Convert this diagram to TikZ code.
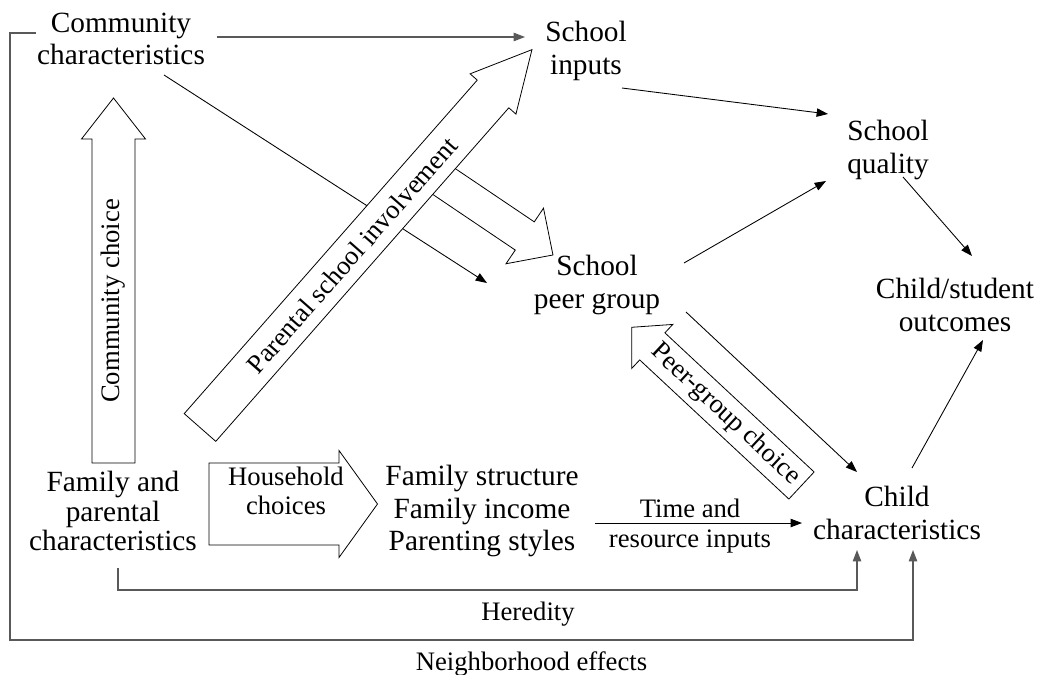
\documentclass[tikz,border=0pt]{standalone}
\usepackage{fontspec}
\setmainfont{Liberation Serif}
\usetikzlibrary{arrows.meta}
\tikzset{
  main/.style={font=\fontsize{22}{24.5}\selectfont, align=center, inner sep=0pt},
  fam/.style={font=\fontsize{22}{22.3}\selectfont, align=center, inner sep=0pt},
  lab/.style={font=\fontsize{20}{22}\selectfont, align=center, inner sep=0pt},
  arr/.style={-{Triangle[length=8.5pt,width=6.3pt]}, line width=0.65pt},
  garr/.style={arr, draw=black!65, line width=0.9pt},
  blk/.style={draw=black, fill=white, line width=0.6pt, line join=miter},
  pics/barrow/.style args={#1/#2/#3/#4}{code={
    \draw[blk] (0,-#2/2) -- (#1-#4,-#2/2) -- (#1-#4,-#3/2) -- (#1,0)
      -- (#1-#4,#3/2) -- (#1-#4,#2/2) -- (0,#2/2) -- cycle;
  }},
}
\begin{document}
\begin{tikzpicture}[x=0.75pt,y=-0.75pt]
\fill[white] (0,0) rectangle (1040,675);
\useasboundingbox (0,0) rectangle (1040,675);

% text nodes
\node[main] (comm) at (121,39) {Community\\characteristics};
\node[main] (inputs) at (586,50.7) {School\\inputs};
\node[main] (quality) at (888,150) {School\\quality};
\node[main] (peer) at (597,285) {School\\peer group};
\node[main] (outcomes) at (955,305) {Child/student\\outcomes};
\node[main] (child) at (897,513) {Child\\characteristics};
\node[fam] (family) at (113,511) {Family and\\parental\\characteristics};
\node[main] (fstruct) at (482,511) {Family structure\\Family income\\Parenting styles};
\node[lab] (time) at (690,526) {Time and\\resource inputs};
\node[lab, anchor=base] (hered) at (528,620) {Heredity};
\node[lab, anchor=base] (neigh) at (531.5,670) {Neighborhood effects};

% connector end points
\coordinate (c-comm-e) at (217,37);
\coordinate (c-inputs-w) at (525,37);
\coordinate (c-comm-se) at (164,75);
\coordinate (c-peer-nw) at (487,283);
\coordinate (c-inputs-se) at (622,88);
\coordinate (c-quality-w) at (828,114);
\coordinate (c-peer-ne) at (684,263);
\coordinate (c-quality-sw) at (826,181);
\coordinate (c-quality-s) at (903,177);
\coordinate (c-outcomes-n) at (972,256);
\coordinate (c-peer-se) at (686,312);
\coordinate (c-child-nw) at (857,472);
\coordinate (c-child-ne) at (912,468);
\coordinate (c-outcomes-s) at (983,340);
\coordinate (c-fstruct-e) at (595,523);
\coordinate (c-child-w) at (802,523);
\coordinate (c-family-s) at (118,568);
\coordinate (c-child-s1) at (857,550);
\coordinate (c-comm-w) at (36,33);
\coordinate (c-child-s2) at (913,550);

% thin connectors
\draw[arr] (c-comm-se) -- (c-peer-nw);
\draw[garr] (c-comm-e) -- (c-inputs-w);
\draw[arr] (c-inputs-se) -- (c-quality-w);
\draw[arr] (c-peer-ne) -- (c-quality-sw);
\draw[arr] (c-quality-s) -- (c-outcomes-n);
\draw[arr] (c-peer-se) -- (c-child-nw);
\draw[arr] (c-child-ne) -- (c-outcomes-s);
\draw[arr] (c-fstruct-e) -- (c-child-w);
\draw[garr] (c-family-s) -- (118,590) -- (857,590) -- (c-child-s1);
\draw[garr] (c-comm-w) -- (10,33) -- (10,640) -- (913,640) -- (c-child-s2);

% block arrows
\pic[rotate=90] (ccarrow) at (113.5,463) {barrow=365/43/64/41};
\pic (hharrow) at (209,504) {barrow=168.5/82/107/38.5};
\pic[rotate=-34] (psarrow) at (428.6,171.1) {barrow=150/34/67/34};
\pic[rotate=48.7] (pinvarrow) at (200,427.5) {barrow=503/42/61/59};
\pic[rotate=137] (pgarrow) at (801.5,485.5) {barrow=232/37/60/28};

% block arrow labels
\node[lab, rotate=90] (cc) at (113.5,301) {Community choice};
\node[lab] (hh) at (286,491) {Household\\choices};
\node[lab, rotate=48.7] (pinv) at (352,255) {Parental school involvement};
\node[lab, rotate=-43] (pg) at (725.5,414.5) {Peer-group choice};
\end{tikzpicture}
\end{document}
